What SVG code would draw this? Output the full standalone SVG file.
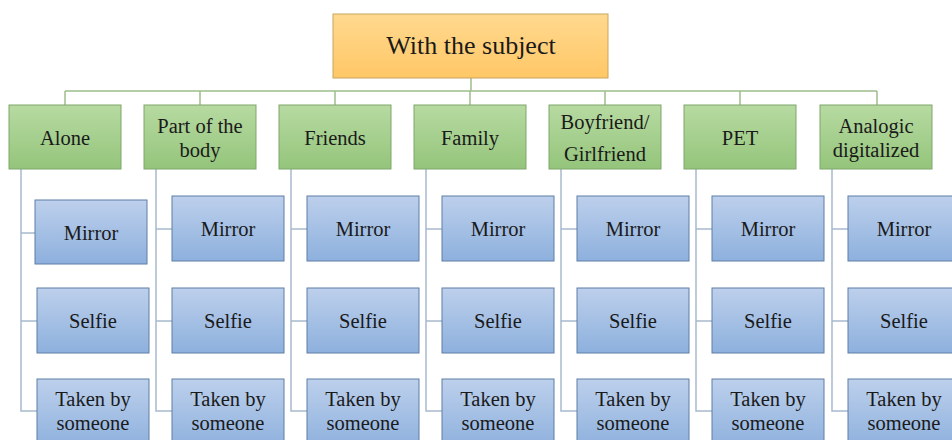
<svg xmlns="http://www.w3.org/2000/svg" width="952" height="440" viewBox="0 0 952 440" font-family="'Liberation Serif', 'Times New Roman', serif">
<defs>
<linearGradient id="gO" x1="0" y1="0" x2="0" y2="1"><stop offset="0" stop-color="#FFD98F"/><stop offset="1" stop-color="#FFC766"/></linearGradient>
<linearGradient id="gG" x1="0" y1="0" x2="0" y2="1"><stop offset="0" stop-color="#B7DAA2"/><stop offset="1" stop-color="#94C57B"/></linearGradient>
<linearGradient id="gB" x1="0" y1="0" x2="0" y2="1"><stop offset="0" stop-color="#BDD0EC"/><stop offset="1" stop-color="#8DB0DD"/></linearGradient>
</defs>
<style>
text{font-family:"Liberation Serif","Times New Roman",serif;fill:#1a1a1a;text-anchor:middle}
.top rect{fill:url(#gO);stroke:#C9A560;stroke-width:1}
.l1 rect{fill:url(#gG);stroke:#7FA66B;stroke-width:1}
.l2 rect{fill:url(#gB);stroke:#5F7EA6;stroke-width:1}
.top text{font-size:26px}
.l1 text,.l2 text{font-size:20.5px}
.cg{stroke:#9DBF8A;stroke-width:1.5;fill:none}
.cb{stroke:#A6B9CE;stroke-width:1.5;fill:none}
</style>
<rect width="952" height="440" fill="#fff"/>
<g id="connectors">
<path class="cg" d="M471 78V91M65 91H877M65 91V105M200 91V105M335 91V105M470 91V105M605 91V105M740 91V105M877 91V105"/>
<path class="cb" d="M21 169V411H37M21 233H35M21 321H37"/>
<path class="cb" d="M156 169V411H172M156 229H172M156 321H172"/>
<path class="cb" d="M291 169V411H307M291 229H307M291 321H307"/>
<path class="cb" d="M426 169V411H442M426 229H442M426 321H442"/>
<path class="cb" d="M561 169V411H577M561 229H577M561 321H577"/>
<path class="cb" d="M696 169V411H712M696 229H712M696 321H712"/>
<path class="cb" d="M832 169V411H848M832 229H848M832 321H848"/>
</g>
<g id="root" class="top"><rect x="333" y="14" width="275" height="64"/><text x="471" y="54">With the subject</text></g>
<g id="alone" class="l1"><rect x="9" y="105" width="112" height="64"/><text x="65" y="145">Alone</text></g>
<g id="body" class="l1"><rect x="144" y="105" width="112" height="64"/><text x="200" y="133">Part of the</text><text x="200" y="157">body</text></g>
<g id="friends" class="l1"><rect x="279" y="105" width="112" height="64"/><text x="335" y="145">Friends</text></g>
<g id="family" class="l1"><rect x="414" y="105" width="112" height="64"/><text x="470" y="145">Family</text></g>
<g id="boyfriend" class="l1"><rect x="549" y="105" width="112" height="64"/><text x="605" y="129">Boyfriend/</text><text x="605" y="161">Girlfriend</text></g>
<g id="pet" class="l1"><rect x="684" y="105" width="112" height="64"/><text x="740" y="145">PET</text></g>
<g id="analogic" class="l1"><rect x="820" y="105" width="112" height="64"/><text x="876" y="133">Analogic</text><text x="876" y="157">digitalized</text></g>

<g id="alone-mirror" class="l2"><rect x="35" y="200" width="112" height="64"/><text x="91" y="240">Mirror</text></g>
<g id="alone-selfie" class="l2"><rect x="37" y="288" width="112" height="65"/><text x="93" y="328">Selfie</text></g>
<g id="alone-taken" class="l2"><rect x="37" y="379" width="112" height="70"/><text x="93" y="406">Taken by</text><text x="93" y="430">someone</text></g>

<g id="body-mirror" class="l2"><rect x="172" y="196" width="112" height="65"/><text x="228" y="236">Mirror</text></g>
<g id="body-selfie" class="l2"><rect x="172" y="288" width="112" height="65"/><text x="228" y="328">Selfie</text></g>
<g id="body-taken" class="l2"><rect x="172" y="379" width="112" height="70"/><text x="228" y="406">Taken by</text><text x="228" y="430">someone</text></g>

<g id="friends-mirror" class="l2"><rect x="307" y="196" width="112" height="65"/><text x="363" y="236">Mirror</text></g>
<g id="friends-selfie" class="l2"><rect x="307" y="288" width="112" height="65"/><text x="363" y="328">Selfie</text></g>
<g id="friends-taken" class="l2"><rect x="307" y="379" width="112" height="70"/><text x="363" y="406">Taken by</text><text x="363" y="430">someone</text></g>

<g id="family-mirror" class="l2"><rect x="442" y="196" width="112" height="65"/><text x="498" y="236">Mirror</text></g>
<g id="family-selfie" class="l2"><rect x="442" y="288" width="112" height="65"/><text x="498" y="328">Selfie</text></g>
<g id="family-taken" class="l2"><rect x="442" y="379" width="112" height="70"/><text x="498" y="406">Taken by</text><text x="498" y="430">someone</text></g>

<g id="boyfriend-mirror" class="l2"><rect x="577" y="196" width="112" height="65"/><text x="633" y="236">Mirror</text></g>
<g id="boyfriend-selfie" class="l2"><rect x="577" y="288" width="112" height="65"/><text x="633" y="328">Selfie</text></g>
<g id="boyfriend-taken" class="l2"><rect x="577" y="379" width="112" height="70"/><text x="633" y="406">Taken by</text><text x="633" y="430">someone</text></g>

<g id="pet-mirror" class="l2"><rect x="712" y="196" width="112" height="65"/><text x="768" y="236">Mirror</text></g>
<g id="pet-selfie" class="l2"><rect x="712" y="288" width="112" height="65"/><text x="768" y="328">Selfie</text></g>
<g id="pet-taken" class="l2"><rect x="712" y="379" width="112" height="70"/><text x="768" y="406">Taken by</text><text x="768" y="430">someone</text></g>

<g id="analogic-mirror" class="l2"><rect x="848" y="196" width="112" height="65"/><text x="904" y="236">Mirror</text></g>
<g id="analogic-selfie" class="l2"><rect x="848" y="288" width="112" height="65"/><text x="904" y="328">Selfie</text></g>
<g id="analogic-taken" class="l2"><rect x="848" y="379" width="112" height="70"/><text x="904" y="406">Taken by</text><text x="904" y="430">someone</text></g>
</svg>
